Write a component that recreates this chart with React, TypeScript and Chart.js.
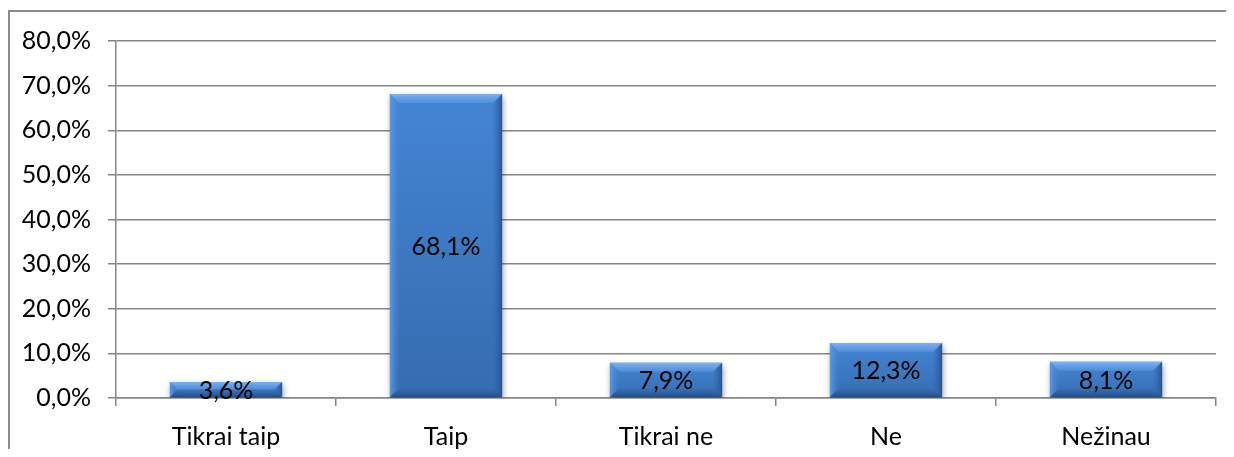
import React, { useEffect, useRef } from "react";
import { Chart, registerables } from "chart.js";

Chart.register(...registerables);

const categories = ["Tikrai taip", "Taip", "Tikrai ne", "Ne", "Nežinau"];
const values = [3.6, 68.1, 7.9, 12.3, 8.1];
const yMin = 0;
const yMax = 80;
const yStep = 10;

const FONT = "Lato, 'Open Sans', sans-serif";
const FSIZE = 25;
const GRID = "#868686";
const BODY = "rgb(62,125,204)";

const fmt = (v: number, d: number) => v.toFixed(d).replace(".", ",") + "%";

const barFill = (c: any) => {
  const chart = c.chart;
  const ys = chart.scales && chart.scales.y;
  if (!ys || c.dataIndex === undefined) return BODY;
  const top = ys.getPixelForValue(values[c.dataIndex]);
  const base = ys.getPixelForValue(0);
  if (!isFinite(top) || !isFinite(base) || top === base) return BODY;
  const g = chart.ctx.createLinearGradient(0, top, 0, base);
  g.addColorStop(0, "rgb(68,133,212)");
  g.addColorStop(1, "rgb(54,108,176)");
  return g;
};

const bevelPlugin = {
  id: "bevel",
  beforeDatasetsDraw(chart: any) {
    const ctx = chart.ctx;
    ctx.save();
    ctx.shadowColor = "rgba(0,0,0,0.4)";
    ctx.shadowBlur = 6;
    ctx.shadowOffsetX = 1;
    ctx.shadowOffsetY = 3;
  },
  afterDatasetsDraw(chart: any) {
    const ctx = chart.ctx;
    ctx.restore();
    const meta = chart.getDatasetMeta(0);
    meta.data.forEach((el: any, i: number) => {
      const w = el.width;
      const L = el.x - w / 2;
      const R = el.x + w / 2;
      const T = Math.min(el.y, el.base);
      const B = Math.max(el.y, el.base);
      const b = Math.min(9, (B - T) / 2, w / 2);
      if (![L, R, T, B, b].every(isFinite) || b <= 0) return;
      const poly = (pts: number[][], fill: any) => {
        ctx.beginPath();
        ctx.moveTo(pts[0][0], pts[0][1]);
        for (let k = 1; k < pts.length; k++) ctx.lineTo(pts[k][0], pts[k][1]);
        ctx.closePath();
        ctx.fillStyle = fill;
        ctx.fill();
      };
      const grad = (x0: number, y0: number, x1: number, y1: number, c0: string, c1: string) => {
        const g = ctx.createLinearGradient(x0, y0, x1, y1);
        g.addColorStop(0, c0);
        g.addColorStop(1, c1);
        return g;
      };
      poly([[L, T], [R, T], [R - b, T + b], [L + b, T + b]],
        grad(0, T, 0, T + b, "rgb(128,178,238)", "rgba(90,150,224,0.6)"));
      poly([[L, T], [L + b, T + b], [L + b, B - b], [L, B]],
        grad(L, 0, L + b, 0, "rgba(96,156,228,0.9)", "rgba(70,135,212,0.1)"));
      poly([[R, T], [R - b, T + b], [R - b, B - b], [R, B]],
        grad(R, 0, R - b, 0, "rgba(36,80,140,0.9)", "rgba(50,100,170,0.1)"));
      poly([[L, B], [R, B], [R - b, B - b], [L + b, B - b]],
        grad(0, B, 0, B - b, "rgba(34,74,130,0.95)", "rgba(50,100,165,0.2)"));
      ctx.save();
      ctx.fillStyle = "#000";
      ctx.font = `${FSIZE}px ${FONT}`;
      ctx.textAlign = "center";
      ctx.textBaseline = "middle";
      ctx.fillText(fmt(values[i], 1), el.x, (T + B) / 2 + 1);
      ctx.restore();
    });
  },
};

const framePlugin = {
  id: "frame",
  afterDraw(chart: any) {
    const ctx = chart.ctx;
    ctx.save();
    ctx.strokeStyle = "#8c8c8c";
    ctx.lineWidth = 2;
    ctx.beginPath();
    ctx.moveTo(1, chart.height + 5);
    ctx.lineTo(1, 3);
    ctx.lineTo(chart.width + 5, 3);
    ctx.stroke();
    ctx.restore();
  },
};

export default function App() {
  const ref = useRef<HTMLCanvasElement | null>(null);
  useEffect(() => {
    if (!ref.current) return;
    const chart = new Chart(ref.current, {
      type: "bar",
      data: {
        labels: categories,
        datasets: [
          {
            data: values,
            backgroundColor: barFill,
            borderWidth: 0,
            barPercentage: 0.51,
            categoryPercentage: 1,
          },
        ],
      },
      options: {
        animation: false,
        responsive: false,
        maintainAspectRatio: false,
        layout: { padding: { top: 33, right: 10, left: 0, bottom: 0 } },
        plugins: {
          legend: { display: false },
          tooltip: { enabled: false },
        },
        scales: {
          x: {
            offset: true,
            grid: {
              offset: true,
              drawOnChartArea: false,
              drawTicks: true,
              tickLength: 8,
              color: GRID,
              lineWidth: 1.5,
            },
            border: { color: GRID, width: 1.5 },
            ticks: {
              color: "#000",
              font: { family: FONT, size: FSIZE },
              padding: 16,
              maxRotation: 0,
            },
            afterFit(scale: any) {
              scale.height = 51;
            },
          },
          y: {
            min: yMin,
            max: yMax,
            grid: { color: GRID, lineWidth: 1.5, tickLength: 8 },
            border: { color: GRID, width: 1.5 },
            ticks: {
              stepSize: yStep,
              color: "#000",
              font: { family: FONT, size: FSIZE },
              padding: 17,
              callback: (v: any) => fmt(Number(v), 1),
            },
            afterFit(scale: any) {
              scale.width = 108;
            },
          },
        },
      },
      plugins: [bevelPlugin, framePlugin],
    });
    return () => chart.destroy();
  }, []);
  return (
    <div style={{ width: 1218, height: 441 }}>
      <canvas ref={ref} width={1218} height={441} style={{ display: "block" }} />
    </div>
  );
}
